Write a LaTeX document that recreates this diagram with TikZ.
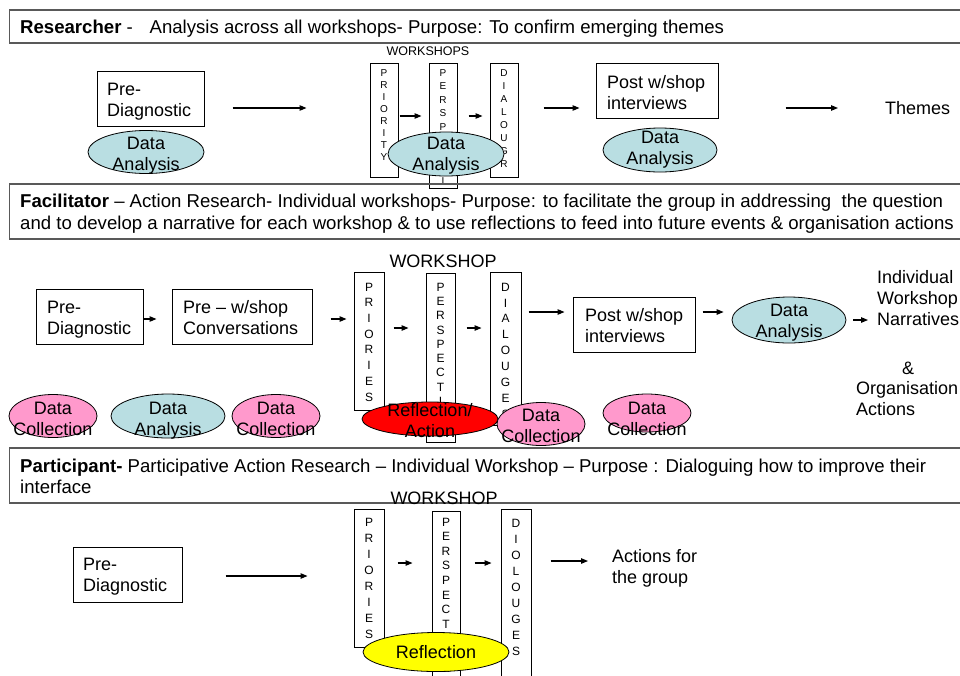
\documentclass[tikz,border=0pt]{standalone}
\usepackage{fontspec}
\setmainfont{Liberation Sans}
\usetikzlibrary{shapes.geometric,arrows.meta}

\definecolor{dablue}{RGB}{185,222,226}
\definecolor{dcpink}{RGB}{255,153,204}
\definecolor{refred}{RGB}{255,0,0}
\definecolor{refyellow}{RGB}{255,255,0}

\tikzset{
  txt/.style={font=\fontsize{18}{21}\selectfont, inner sep=0pt},
  hdrtxt/.style={font=\fontsize{18.6}{21}\selectfont, inner sep=0pt, anchor=base west},
  hdrbox/.style={draw=black!65, line width=1.3pt},
  stagebox/.style={draw, rectangle, line width=1pt, inner sep=0pt},
  colbox/.style={draw, rectangle, line width=1pt, inner sep=0pt},
  letters/.style={inner sep=0pt, align=center, anchor=north},
  rlet/.style={letters, font=\fontsize{10}{#1}\selectfont},
  flet/.style={letters, font=\fontsize{12}{#1}\selectfont},
  oval/.style={draw, ellipse, inner sep=0pt, line width=0.8pt},
  analysis/.style={oval, fill=dablue},
  collect/.style={oval, fill=dcpink},
  arr/.style={-{Triangle[length=7pt,width=5.5pt]}, line width=1.1pt},
}

\begin{document}
\begin{tikzpicture}[x=1pt,y=-1pt]
\clip (0,0) rectangle (960,675);
\fill[white] (0,0) rectangle (960,675);

% ---------------- Researcher ----------------
\draw[hdrbox] (9.5,10) rectangle (975,43);
\node[hdrtxt] (rhead) at (20,33)
  {\textbf{Researcher} -\hspace{0.9em}Analysis across all workshops- Purpose: To confirm emerging themes};

\node[stagebox, minimum width=107pt, minimum height=55pt] (rpd) at (150.5,98.5) {};
\node[txt, align=left, anchor=west] (rpdt) at (107,101.4) {Pre-\\Diagnostic};

\node[txt, font=\fontsize{12.5}{15}\selectfont] (rws) at (428,51) {WORKSHOPS};

\node[colbox, minimum width=28pt, minimum height=114pt] (rpri) at (384,120) {};
\node[rlet=12] (rprit) at (384,69.4) {P\\R\\I\\O\\R\\I\\T\\Y};
\node[colbox, minimum width=28pt, minimum height=125pt] (rper) at (443,125.5) {};
\node[rlet=13.5] (rpert) at (443,69.4) {P\\E\\R\\S\\P\\E\\C\\T\\I};
\node[colbox, minimum width=28pt, minimum height=114pt] (rdia) at (504,120) {};
\node[rlet=13] (rdiat) at (504,69.4) {D\\I\\A\\L\\O\\U\\G\\R};

\node[stagebox, minimum width=122pt, minimum height=55pt] (rpost) at (657,90.5) {};
\node[txt, align=left, anchor=west] (rpostt) at (607,92.4) {Post w/shop\\interviews};
\node[txt, anchor=west] (rthemes) at (885,108) {Themes};

\node[analysis, minimum width=116pt, minimum height=43pt] (rda) at (146,152) {};
\node[txt, align=center] (rdat) at (146,155.4) {Data\\Analysis};
\node[analysis, minimum width=116pt, minimum height=44pt] (rda2) at (446,154) {};
\node[txt, align=center] (rda2t) at (446,155.4) {Data\\Analysis};
\node[analysis, minimum width=114pt, minimum height=44pt] (rda3) at (660,150) {};
\node[txt, align=center] (rda3t) at (660,149.4) {Data\\Analysis};

\draw[arr, shorten <=28pt, shorten >=63pt] (rpd.east |- 0,108) -- (rpri.west |- 0,108);
\draw[arr, shorten <=1pt, shorten >=7pt] (rpri.east |- 0,116) -- (rper.west |- 0,116);
\draw[arr, shorten <=11pt, shorten >=7pt] (rper.east |- 0,116) -- (rdia.west |- 0,116);
\draw[arr, shorten <=25pt, shorten >=16pt] (rdia.east |- 0,108) -- (rpost.west |- 0,108);
\draw[arr, shorten <=67pt, shorten >=47pt] (rpost.east |- 0,108) -- (rthemes.west |- 0,108);

% ---------------- Facilitator ----------------
\draw[hdrbox] (9.5,184) rectangle (975,239);
\node[hdrtxt] (fhead1) at (20,207)
  {\textbf{Facilitator} – Action Research- Individual workshops- Purpose: to facilitate the group in addressing\ \ the question};
\node[hdrtxt] (fhead2) at (20,229)
  {and to develop a narrative for each workshop \& to use reflections to feed into future events \& organisation actions};

\node[txt] (fws) at (443,261) {WORKSHOP};

\node[stagebox, minimum width=107pt, minimum height=55pt] (fpd) at (89.5,316.5) {};
\node[txt, align=left, anchor=west] (fpdt) at (47,319.4) {Pre-\\Diagnostic};
\node[stagebox, minimum width=140pt, minimum height=55pt] (fpw) at (242,316.5) {};
\node[txt, align=left, anchor=west] (fpwt) at (183,317.4) {Pre – w/shop\\Conversations};

\node[colbox, minimum width=30pt, minimum height=138pt] (fpri) at (369,341) {};
\node[flet=15.7] (fprit) at (369,282.7) {P\\R\\I\\O\\R\\I\\E\\S};
\node[colbox, minimum width=29pt, minimum height=169pt] (fper) at (440.5,357.5) {};
\node[flet=14.3] (fpert) at (440.5,282.7) {P\\E\\R\\S\\P\\E\\C\\T\\I};
\node[colbox, minimum width=31pt, minimum height=153pt] (fdia) at (505.5,348.5) {};
\node[flet=15.9] (fdiat) at (505.5,282.7) {D\\I\\A\\L\\O\\U\\G\\E\\S};

\node[stagebox, minimum width=122pt, minimum height=55pt] (fpost) at (634,324.5) {};
\node[txt, align=left, anchor=west] (fpostt) at (585,325.4) {Post w/shop\\interviews};

\node[analysis, minimum width=114pt, minimum height=46pt] (fda) at (789,320) {};
\node[txt, align=center] (fdat) at (789,322.4) {Data\\Analysis};

\node[txt, align=left, anchor=west] (fnarr) at (877,297.9) {Individual\\Workshop\\Narratives};
\node[txt] (famp) at (908,368) {\&};
\node[txt, align=left, anchor=west] (forg) at (856,398.4) {Organisation\\Actions};

\node[collect, minimum width=88pt, minimum height=43pt] (fc1) at (53,416) {};
\node[analysis, minimum width=114pt, minimum height=44pt] (fa1) at (168,416) {};
\node[collect, minimum width=88pt, minimum height=43pt] (fc2) at (276,416) {};
\node[oval, fill=refred, minimum width=136pt, minimum height=34pt] (fref) at (430,419) {};
\node[collect, minimum width=88pt, minimum height=43pt] (fc3) at (541,424) {};
\node[collect, minimum width=88pt, minimum height=38pt] (fc4) at (647,413) {};

\node[txt, align=center] (fc1t) at (53,418.5) {Data\\Collection};
\node[txt, align=center] (fa1t) at (168,420.4) {Data\\Analysis};
\node[txt, align=center] (fc2t) at (276,418.5) {Data\\Collection};
\node[txt, align=center] (freft) at (430,420.4) {Reflection/\\Action};
\node[txt, align=center] (fc3t) at (541,425.5) {Data\\Collection};
\node[txt, align=center] (fc4t) at (647,418.5) {Data\\Collection};

\draw[arr] (fpd.east |- 0,319) -- ([xshift=-15pt]fpw.west |- 0,319);
\draw[arr, shorten <=18pt, shorten >=7pt] (fpw.east |- 0,319) -- (fpri.west |- 0,319);
\draw[arr, shorten <=9pt, shorten >=17pt] (fpri.east |- 0,328) -- (fper.west |- 0,328);
\draw[arr, shorten <=11pt, shorten >=8pt] (fper.east |- 0,328) -- (fdia.west |- 0,328);
\draw[arr, shorten <=7pt, shorten >=8pt] (fdia.east |- 0,312) -- (fpost.west |- 0,312);
\draw[arr, shorten <=7pt, shorten >=8pt] (fpost.east |- 0,312) -- (fda.west |- 0,312);
\draw[arr, shorten <=7pt, shorten >=9pt] (fda.east |- 0,320) -- (fnarr.west |- 0,320);

% ---------------- Participant ----------------
\draw[hdrbox] (9.5,448) rectangle (975,503);
\node[hdrtxt] (phead1) at (20,472)
  {\textbf{Participant-} Participative Action Research – Individual Workshop – Purpose : Dialoguing how to improve their};
\node[hdrtxt] (phead2) at (20,493) {interface};

\node[txt] (pws) at (444,498.5) {WORKSHOP};

\node[stagebox, minimum width=109pt, minimum height=55pt] (ppd) at (127.5,574.5) {};
\node[txt, align=left, anchor=west] (ppdt) at (83,576.4) {Pre-\\Diagnostic};

\node[colbox, minimum width=30pt, minimum height=138pt] (ppri) at (369,578) {};
\node[flet=16] (pprit) at (369,517.7) {P\\R\\I\\O\\R\\I\\E\\S};
\node[colbox, minimum width=28pt, minimum height=189pt] (pper) at (446,605.5) {};
\node[flet=14.6] (ppert) at (446,517.7) {P\\E\\R\\S\\P\\E\\C\\T\\I\\V\\E};
\node[colbox, minimum width=30pt, minimum height=191pt] (pdia) at (516,604.5) {};
\node[flet=16.1] (pdiat) at (516,518.7) {D\\I\\O\\L\\O\\U\\G\\E\\S};

\node[oval, fill=refyellow, minimum width=146pt, minimum height=39pt] (pref) at (436,652) {};
\node[txt] (preft) at (436,652) {Reflection};

\node[txt, align=left, anchor=west] (pact) at (612,568.3) {Actions for\\the group};

\draw[arr, shorten <=43pt, shorten >=46pt] (ppd.east |- 0,576) -- (ppri.west |- 0,576);
\draw[arr, shorten <=13pt, shorten >=19pt] (ppri.east |- 0,563) -- (pper.west |- 0,563);
\draw[arr, shorten <=14pt, shorten >=9pt] (pper.east |- 0,563) -- (pdia.west |- 0,563);
\draw[arr, shorten <=19pt, shorten >=24pt] (pdia.east |- 0,561) -- (pact.west |- 0,561);
\end{tikzpicture}
\end{document}
